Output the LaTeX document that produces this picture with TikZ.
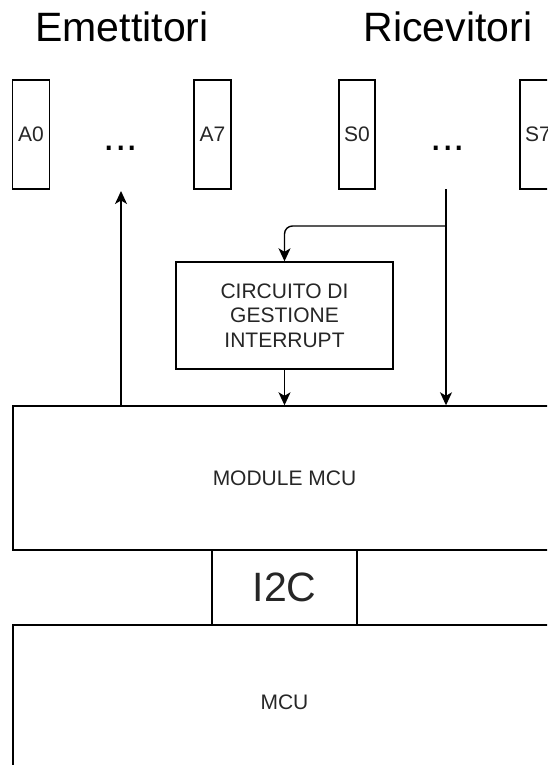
\documentclass[tikz,border=0pt]{standalone}
\usepackage{fontspec}
\setmainfont{Liberation Sans}
\usetikzlibrary{arrows.meta}

\tikzset{
  blk/.style={draw, line width=1.4pt, inner sep=0pt, text=black!85},
  pin/.style={blk, minimum width=36pt, minimum height=109pt, anchor=center},
  wire/.style={line width=1.4pt, -{Stealth[length=13pt, width=12pt, inset=3.5pt]}},
  bigtxt/.style={font=\fontsize{41}{49}\selectfont, inner sep=0pt},
  smalltxt/.style={font=\fontsize{21}{24.5}\selectfont}
}

\begin{document}
\begin{tikzpicture}[x=1pt, y=-1pt]
  \useasboundingbox (0,0) rectangle (547,765);
  \clip (0,0) rectangle (547,765);

  % titles
  \node[bigtxt, anchor=base] (emTitle) at (122,42) {Emettitori};
  \node[bigtxt, anchor=base] (rcTitle) at (448,42) {Ricevitori};

  % emitters and receivers
  \node[pin, smalltxt, minimum width=37pt] (a0) at (31,134.5) {A0};
  \node[pin, smalltxt, minimum width=37pt] (a7) at (212.5,134.5) {A7};
  \node[pin, smalltxt] (s0) at (357,134.5) {S0};
  \node[pin, smalltxt] (s7) at (538,134.5) {S7};
  \node[bigtxt, anchor=base] (dotsA) at (121,150) {...};
  \node[bigtxt, anchor=base] (dotsS) at (448,150) {...};

  % blocks
  \node[blk, smalltxt, align=center, minimum width=217pt, minimum height=107pt] (intr) at (284.5,315.5) {CIRCUITO DI\\GESTIONE\\INTERRUPT};
  \node[blk, smalltxt, minimum width=543pt, minimum height=144pt] (module) at (284.5,478) {MODULE MCU};
  \node[blk, bigtxt, minimum width=145pt, minimum height=75pt] (i2c) at (284.5,587.5) {I2C};
  \node[blk, smalltxt, minimum width=543pt, minimum height=154pt] (mcu) at (284.5,702) {MCU};

  % connectors
  \coordinate (emitEnd) at (121,191);
  \coordinate (recvStart) at (446,189);
  \coordinate (branch) at (446,226);
  \draw[wire] (module.north -| emitEnd) -- (emitEnd);
  \draw[wire] (recvStart) -- (recvStart |- module.north);
  \draw[wire, rounded corners=8pt] (branch) -| (intr.north);
  \draw[wire] (intr.south) -- (intr.south |- module.north);
\end{tikzpicture}
\end{document}
